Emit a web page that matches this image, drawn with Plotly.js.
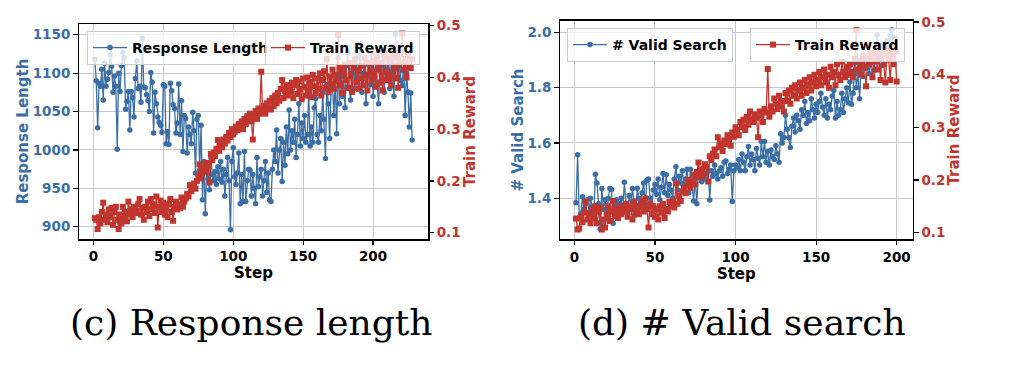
<!DOCTYPE html>
<html>
<head>
<meta charset="utf-8">
<script src="https://cdn.plot.ly/plotly-3.0.1.min.js"></script>
<style>
  html, body { margin: 0; padding: 0; background: #ffffff; }
  #chart { width: 1014px; height: 374px; }
</style>
</head>
<body>
<div id="chart"></div>
<script>
// ---------- data ----------
// (c) Response length: steps 1..228
const responseLength = [
  1118, 1090, 1029, 1087, 1083, 1105, 1065, 1113, 1083, 1092,
  1101, 1124, 1109, 1075, 1096, 1083, 1001, 1100, 1076, 1110,
  1127, 1120, 1053, 1063, 1076, 1026, 1076, 1068, 1043, 1093,
  1116, 1080, 1083, 1062, 1145, 1082, 1081, 1072, 1064, 1050,
  1101, 1088, 1022, 1075, 1060, 1043, 1036, 1032, 1023, 1085,
  1083, 1008, 1024, 1007, 1087, 1077, 1059, 1054, 1022, 1035,
  1086, 1020, 1064, 998, 1045, 1041, 996, 1030, 1020, 1008,
  1049, 1025, 970, 1040, 1045, 974, 1032, 935, 985, 917,
  975, 962, 948, 990, 968, 960, 972, 955, 978, 962,
  985, 958, 975, 940, 968, 990, 960, 896, 985, 1003,
  965, 955, 970, 996, 930, 968, 933, 998, 933, 960,
  975, 974, 940, 968, 950, 930, 990, 952, 965, 975,
  940, 960, 985, 945, 970, 935, 933, 975, 1000, 985,
  1026, 970, 1000, 1015, 959, 1010, 980, 1030, 995, 1052,
  1000, 1025, 1010, 1040, 990, 1020, 1060, 1005, 1035, 1015,
  1045, 1010, 1020, 1075, 1005, 1030, 1010, 1055, 1067, 1020,
  1010, 1045, 1025, 1075, 1040, 989, 1085, 1060, 1015, 1080,
  1084, 1045, 1090, 1021, 1120, 1060, 1100, 1070, 1095, 1055,
  1110, 1126, 1080, 1065, 1100, 1115, 1080, 1120, 1090, 1105,
  1138, 1075, 1100, 1120, 1060, 1095, 1110, 1085, 1125, 1070,
  1100, 1115, 1085, 1060, 1110, 1090, 1130, 1075, 1105, 1120,
  1095, 1080, 1115, 1100, 1070, 1151, 1110, 1095, 1125, 1090,
  1084, 1115, 1045, 1100, 1075, 1030, 1074, 1013
];
const rewardC = [
  0.128, 0.125, 0.107, 0.130, 0.118, 0.140, 0.158, 0.125, 0.135, 0.120,
  0.145, 0.130, 0.148, 0.115, 0.140, 0.150, 0.125, 0.107, 0.135, 0.118,
  0.150, 0.128, 0.140, 0.122, 0.160, 0.135, 0.145, 0.130, 0.150, 0.138,
  0.142, 0.155, 0.165, 0.135, 0.148, 0.125, 0.150, 0.140, 0.160, 0.132,
  0.165, 0.145, 0.155, 0.138, 0.170, 0.110, 0.150, 0.162, 0.140, 0.158,
  0.135, 0.148, 0.130, 0.155, 0.165, 0.140, 0.123, 0.150, 0.160, 0.145,
  0.155, 0.148, 0.168, 0.150, 0.160, 0.166, 0.175, 0.170, 0.192, 0.180,
  0.188, 0.195, 0.185, 0.200, 0.210, 0.232, 0.205, 0.215, 0.225, 0.218,
  0.235, 0.228, 0.197, 0.252, 0.240, 0.255, 0.248, 0.262, 0.279, 0.258,
  0.270, 0.265, 0.280, 0.272, 0.285, 0.278, 0.293, 0.285, 0.300, 0.290,
  0.295, 0.305, 0.298, 0.310, 0.302, 0.315, 0.300, 0.320, 0.310, 0.325,
  0.318, 0.330, 0.315, 0.280, 0.325, 0.335, 0.320, 0.340, 0.330, 0.411,
  0.335, 0.345, 0.330, 0.350, 0.340, 0.355, 0.338, 0.360, 0.345, 0.365,
  0.350, 0.370, 0.355, 0.378, 0.395, 0.360, 0.375, 0.385, 0.365, 0.380,
  0.372, 0.390, 0.360, 0.385, 0.395, 0.368, 0.392, 0.378, 0.358, 0.398,
  0.382, 0.365, 0.400, 0.375, 0.392, 0.362, 0.405, 0.383, 0.370, 0.398,
  0.378, 0.408, 0.365, 0.395, 0.412, 0.380, 0.436, 0.372, 0.402, 0.388,
  0.415, 0.378, 0.405, 0.392, 0.482, 0.385, 0.418, 0.370, 0.408, 0.425,
  0.395, 0.380, 0.428, 0.402, 0.372, 0.418, 0.435, 0.390, 0.412, 0.378,
  0.422, 0.398, 0.385, 0.438, 0.405, 0.375, 0.428, 0.412, 0.392, 0.432,
  0.402, 0.382, 0.440, 0.415, 0.390, 0.428, 0.375, 0.445, 0.410, 0.395,
  0.435, 0.405, 0.385, 0.442, 0.418, 0.398, 0.438, 0.380, 0.425, 0.445,
  0.485, 0.415, 0.430, 0.400, 0.442, 0.420, 0.418, 0.435
];
// (d) # Valid search: steps 1..200
const validSearch = [
  1.384, 1.557, 1.330, 1.345, 1.406, 1.360, 1.380, 1.395, 1.350, 1.400,
  1.370, 1.340, 1.487, 1.455, 1.380, 1.288, 1.435, 1.360, 1.395, 1.330,
  1.400, 1.435, 1.432, 1.310, 1.370, 1.395, 1.345, 1.380, 1.400, 1.355,
  1.458, 1.380, 1.345, 1.410, 1.370, 1.435, 1.390, 1.340, 1.436, 1.400,
  1.385, 1.420, 1.455, 1.380, 1.465, 1.470, 1.400, 1.375, 1.430, 1.450,
  1.415, 1.470, 1.395, 1.440, 1.490, 1.420, 1.485, 1.410, 1.450, 1.430,
  1.400, 1.470, 1.514, 1.430, 1.480, 1.455, 1.500, 1.440, 1.470, 1.505,
  1.420, 1.505, 1.450, 1.390, 1.470, 1.380, 1.500, 1.480, 1.460, 1.510,
  1.470, 1.490, 1.500, 1.394, 1.500, 1.480, 1.520, 1.490, 1.470, 1.500,
  1.510, 1.480, 1.530, 1.535, 1.490, 1.505, 1.520, 1.388, 1.500, 1.520,
  1.510, 1.540, 1.500, 1.560, 1.530, 1.500, 1.550, 1.587, 1.520, 1.560,
  1.540, 1.500, 1.580, 1.545, 1.520, 1.605, 1.550, 1.605, 1.530, 1.570,
  1.520, 1.575, 1.550, 1.540, 1.590, 1.560, 1.530, 1.633, 1.600, 1.620,
  1.700, 1.650, 1.620, 1.584, 1.660, 1.690, 1.640, 1.700, 1.680, 1.650,
  1.720, 1.700, 1.750, 1.670, 1.710, 1.680, 1.760, 1.720, 1.690, 1.740,
  1.710, 1.750, 1.780, 1.730, 1.700, 1.760, 1.690, 1.740, 1.720, 1.770,
  1.790, 1.690, 1.750, 1.700, 1.720, 1.780, 1.710, 1.760, 1.800, 1.745,
  1.820, 1.740, 1.780, 1.888, 1.800, 1.850, 1.760, 1.880, 1.840, 1.900,
  1.870, 1.910, 1.850, 1.890, 1.920, 1.860, 1.950, 1.990, 1.900, 1.940,
  1.880, 1.960, 1.920, 1.970, 1.900, 1.990, 2.009, 1.940, 1.980, 1.930
];
const rewardD = [
  0.127, 0.106, 0.108, 0.130, 0.120, 0.138, 0.159, 0.125, 0.135, 0.118,
  0.145, 0.128, 0.150, 0.118, 0.140, 0.148, 0.106, 0.125, 0.110, 0.135,
  0.150, 0.122, 0.140, 0.160, 0.132, 0.145, 0.128, 0.150, 0.135, 0.148,
  0.140, 0.155, 0.130, 0.150, 0.145, 0.125, 0.158, 0.138, 0.150, 0.135,
  0.148, 0.160, 0.140, 0.165, 0.145, 0.110, 0.155, 0.135, 0.150, 0.130,
  0.145, 0.125, 0.150, 0.138, 0.155, 0.128, 0.145, 0.140, 0.158, 0.150,
  0.160, 0.148, 0.194, 0.155, 0.170, 0.160, 0.178, 0.185, 0.175, 0.190,
  0.200, 0.185, 0.195, 0.210, 0.192, 0.215, 0.233, 0.205, 0.220, 0.210,
  0.230, 0.225, 0.197, 0.245, 0.238, 0.250, 0.258, 0.245, 0.281, 0.262,
  0.270, 0.255, 0.275, 0.268, 0.285, 0.278, 0.265, 0.290, 0.282, 0.300,
  0.295, 0.285, 0.310, 0.300, 0.315, 0.295, 0.320, 0.305, 0.330, 0.315,
  0.310, 0.325, 0.318, 0.281, 0.330, 0.322, 0.310, 0.335, 0.328, 0.411,
  0.320, 0.340, 0.330, 0.355, 0.345, 0.335, 0.360, 0.340, 0.350, 0.330,
  0.365, 0.350, 0.370, 0.345, 0.375, 0.360, 0.380, 0.355, 0.370, 0.385,
  0.360, 0.375, 0.390, 0.365, 0.380, 0.395, 0.370, 0.385, 0.400, 0.378,
  0.390, 0.405, 0.380, 0.395, 0.410, 0.385, 0.400, 0.375, 0.415, 0.395,
  0.405, 0.380, 0.420, 0.400, 0.390, 0.425, 0.405, 0.395, 0.415, 0.400,
  0.420, 0.405, 0.395, 0.430, 0.485, 0.410, 0.425, 0.400, 0.435, 0.415,
  0.378, 0.430, 0.420, 0.440, 0.395, 0.425, 0.445, 0.410, 0.435, 0.390,
  0.440, 0.420, 0.385, 0.445, 0.430, 0.390, 0.440, 0.420, 0.445, 0.387
];
const stepsC = responseLength.map((_, i) => i + 1);
const stepsD = validSearch.map((_, i) => i + 1);

const stepTicks = [0, 50, 100, 150, 200];
const lengthTicks = [900, 950, 1000, 1050, 1100, 1150];
const validTicks = [1.4, 1.6, 1.8, 2.0];
const validTickText = ['1.4', '1.6', '1.8', '2.0'];
const rewardTicks = [0.1, 0.2, 0.3, 0.4, 0.5];

const captions = ['(c) Response length', '(d) # Valid search'];

// ---------- styles ----------
const BLUE = '#3a6ea5';
const RED = '#c0352d';
const W = 1014, H = 374;
const px = v => v / W;
const py = v => 1 - v / H;
const SANS = 'DejaVu Sans, sans-serif';
const tickFont = c => ({ family: SANS, size: 13.5, color: c, weight: 'bold' });
const titleFont = c => ({ family: SANS, size: 15, color: c, weight: 'bold' });

const baseAxis = {
  showline: true, linecolor: '#000000', linewidth: 1.5,
  ticks: 'outside', ticklen: 4.5, tickwidth: 1.2, tickcolor: '#000000',
  zeroline: false, automargin: false, fixedrange: true
};

const lineTrace = (x, y, name, color, symbol, xa, ya, leg) => ({
  type: 'scatter', mode: 'lines+markers', x: x, y: y, name: name,
  xaxis: xa, yaxis: ya, legend: leg,
  line: { color: color, width: 1.3 },
  marker: { color: color, size: symbol === 'square' ? 6 : 5.5, symbol: symbol },
  hoverinfo: 'skip'
});

const data = [
  lineTrace(stepsC, responseLength, 'Response Length', BLUE, 'circle', 'x', 'y', 'legend'),
  lineTrace(stepsC, rewardC, 'Train Reward', RED, 'square', 'x', 'y2', 'legend2'),
  lineTrace(stepsD, validSearch, '# Valid Search', BLUE, 'circle', 'x2', 'y3', 'legend3'),
  lineTrace(stepsD, rewardD, 'Train Reward', RED, 'square', 'x2', 'y4', 'legend4')
];

const legendStyle = (x, xanchor, y) => ({
  x: x, xanchor: xanchor, y: y, yanchor: 'top',
  bgcolor: 'rgba(255,255,255,0.8)', bordercolor: '#cccccc', borderwidth: 1,
  font: { family: SANS, size: 14, color: '#000000', weight: 'bold' },
  itemwidth: 34,
  itemclick: false, itemdoubleclick: false
});

const layout = {
  width: W, height: H,
  margin: { l: 0, r: 0, t: 0, b: 0 },
  paper_bgcolor: '#ffffff', plot_bgcolor: '#ffffff',
  showlegend: true,
  xaxis: Object.assign({}, baseAxis, {
    domain: [px(79), px(428)], range: [-10.35, 239.35], anchor: 'y',
    tickvals: stepTicks, tickfont: tickFont('#000000'), mirror: true,
    showgrid: true, gridcolor: '#c8c8c8', gridwidth: 1,
    title: { text: 'Step', font: titleFont('#000000'), standoff: 1 }
  }),
  yaxis: Object.assign({}, baseAxis, {
    domain: [py(239), py(24)], range: [884, 1164], anchor: 'x',
    tickvals: lengthTicks, tickfont: tickFont(BLUE), mirror: true,
    showgrid: true, gridcolor: '#c8c8c8', gridwidth: 1,
    title: { text: 'Response Length', font: titleFont(BLUE), standoff: 0 }
  }),
  yaxis2: Object.assign({}, baseAxis, {
    overlaying: 'y', side: 'right', anchor: 'x', range: [0.0878, 0.5033],
    tickvals: rewardTicks, tickfont: tickFont(RED), showgrid: false,
    title: { text: 'Train Reward', font: titleFont(RED), standoff: 1 }
  }),
  xaxis2: Object.assign({}, baseAxis, {
    domain: [px(560), px(912.7)], range: [-8.95, 209.95], anchor: 'y3',
    tickvals: stepTicks, tickfont: tickFont('#000000'), mirror: true,
    showgrid: true, gridcolor: '#c8c8c8', gridwidth: 1,
    title: { text: 'Step', font: titleFont('#000000'), standoff: 1 }
  }),
  yaxis3: Object.assign({}, baseAxis, {
    domain: [py(239.3), py(20.7)], range: [1.2518, 2.0419], anchor: 'x2',
    tickvals: validTicks, ticktext: validTickText, tickfont: tickFont(BLUE), mirror: true,
    showgrid: true, gridcolor: '#c8c8c8', gridwidth: 1,
    title: { text: '# Valid Search', font: titleFont(BLUE), standoff: 0 }
  }),
  yaxis4: Object.assign({}, baseAxis, {
    overlaying: 'y3', side: 'right', anchor: 'x2', range: [0.0874, 0.5025],
    tickvals: rewardTicks, tickfont: tickFont(RED), showgrid: false,
    title: { text: 'Train Reward', font: titleFont(RED), standoff: 4 }
  }),
  legend: legendStyle(px(87), 'left', py(31)),
  legend2: legendStyle(px(420), 'right', py(31)),
  legend3: legendStyle(px(567), 'left', py(28)),
  legend4: legendStyle(px(905), 'right', py(28)),
  annotations: [
    { text: captions[0], xref: 'paper', yref: 'paper', x: px(251), y: py(322.4),
      xanchor: 'center', yanchor: 'middle', showarrow: false,
      font: { family: 'DejaVu Serif, serif', size: 36, color: '#000000' } },
    { text: captions[1], xref: 'paper', yref: 'paper', x: px(742), y: py(322.4),
      xanchor: 'center', yanchor: 'middle', showarrow: false,
      font: { family: 'DejaVu Serif, serif', size: 36, color: '#000000' } }
  ]
};

Plotly.newPlot('chart', data, layout, { staticPlot: true, displayModeBar: false });
</script>
</body>
</html>
